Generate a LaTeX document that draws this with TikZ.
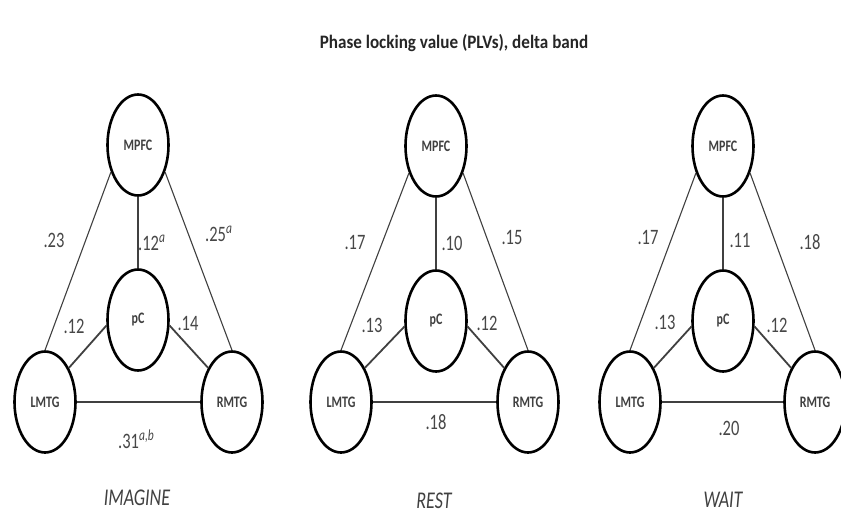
\documentclass[tikz,border=0pt]{standalone}
\usepackage{fontspec}
\setmainfont{Carlito}
\newfontfamily\cf[FakeStretch=0.75]{Carlito}
\newfontfamily\tf[FakeStretch=0.9]{Carlito}
\usetikzlibrary{shapes.geometric}
\tikzset{
  region/.style={ellipse, draw=black, line width=2.6pt, minimum width=61pt, minimum height=101pt,
    inner sep=0pt, font=\cf\bfseries\fontsize{16}{16}\selectfont, text=black!75},
  thinlink/.style={line width=1.1pt, draw=black!75},
  midlink/.style={line width=1.8pt, draw=black!75},
  baselink/.style={line width=2.6pt, draw=black!75},
  val/.style={font=\cf\fontsize{22}{22}\selectfont, text=black!72, inner sep=0pt},
  cond/.style={font=\cf\itshape\fontsize{24}{24}\selectfont, text=black!75, inner sep=0pt},
  titlestyle/.style={font=\tf\bfseries\fontsize{19}{19}\selectfont, text=black!85, inner sep=0pt}
}
\begin{document}
\begin{tikzpicture}[x=1pt,y=-1pt]
\useasboundingbox[fill=white] (0,0) rectangle (841,515);
\node[titlestyle] (title) at (454,43) {Phase locking value (PLVs), delta band};

% ---------- IMAGINE ----------
\node[region] (M1) at (138,145) {MPFC};
\node[region] (P1) at (138,320) {pC};
\node[region] (L1) at (45,402) {LMTG};
\node[region] (R1) at (232,402) {RMTG};
\draw[thinlink] (M1.-135) -- (L1.north);
\draw[thinlink] (M1.-45) -- (R1.north);
\draw[thinlink] (M1.south) -- (P1.north);
\draw[midlink] (P1.190) -- (L1.55);
\draw[midlink] (P1.-10) -- (R1.125);
\draw[baselink] (L1.east) -- (R1.west);
\node[val] (v1a) at (54,240) {.23};
\node[val, anchor=base west] (v1b) at (138,250) {.12\textsuperscript{\itshape a}};
\node[val, anchor=base west] (v1c) at (205,241) {.25\textsuperscript{\itshape a}};
\node[val] (v1d) at (74,326) {.12};
\node[val] (v1e) at (188,323) {.14};
\node[val, anchor=base west] (v1f) at (118,448) {.31\textsuperscript{\itshape a,b}};
\node[cond] (c1) at (137,498) {IMAGINE};

% ---------- REST ----------
\node[region] (M2) at (436,146) {MPFC};
\node[region] (P2) at (436,321) {pC};
\node[region] (L2) at (341,402) {LMTG};
\node[region] (R2) at (528,402) {RMTG};
\draw[thinlink] (M2.-135) -- (L2.north);
\draw[thinlink] (M2.-45) -- (R2.north);
\draw[thinlink] (M2.south) -- (P2.north);
\draw[midlink] (P2.190) -- (L2.55);
\draw[midlink] (P2.-10) -- (R2.125);
\draw[baselink] (L2.east) -- (R2.west);
\node[val] (v2a) at (355,243) {.17};
\node[val] (v2b) at (452,243) {.10};
\node[val] (v2c) at (512,238) {.15};
\node[val] (v2d) at (372,325) {.13};
\node[val] (v2e) at (487,323) {.12};
\node[val] (v2f) at (436,422) {.18};
\node[cond] (c2) at (434,501) {REST};

% ---------- WAIT ----------
\node[region] (M3) at (723,146) {MPFC};
\node[region] (P3) at (723,321) {pC};
\node[region] (L3) at (630,402) {LMTG};
\node[region] (R3) at (815,402) {RMTG};
\draw[thinlink] (M3.-135) -- (L3.north);
\draw[thinlink] (M3.-45) -- (R3.north);
\draw[thinlink] (M3.south) -- (P3.north);
\draw[midlink] (P3.190) -- (L3.55);
\draw[midlink] (P3.-10) -- (R3.125);
\draw[baselink] (L3.east) -- (R3.west);
\node[val] (v3a) at (648,238) {.17};
\node[val] (v3b) at (740,240) {.11};
\node[val] (v3c) at (810,242) {.18};
\node[val] (v3d) at (665,322) {.13};
\node[val] (v3e) at (777,325) {.12};
\node[val] (v3f) at (729,428) {.20};
\node[cond] (c3) at (723,500) {WAIT};
\end{tikzpicture}
\end{document}
